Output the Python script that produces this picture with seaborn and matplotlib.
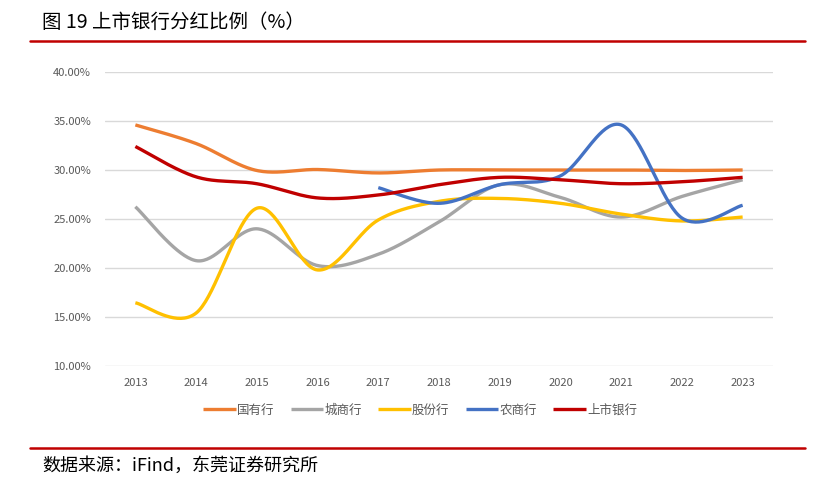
import numpy as np
import pandas as pd
import matplotlib
matplotlib.use('Agg')
import matplotlib.pyplot as plt
import seaborn as sns

# data (payout ratio, %)
years = [2013, 2014, 2015, 2016, 2017, 2018, 2019, 2020, 2021, 2022, 2023]
guoyou = [34.6, 32.7, 29.95, 30.05, 29.7, 30.0, 30.0, 30.0, 30.0, 29.95, 30.0]
chengshang = [26.25, 20.75, 24.0, 20.25, 21.4, 24.7, 28.5, 27.2, 25.2, 27.3, 29.0]
gufen = [16.45, 15.4, 26.1, 19.8, 24.9, 26.8, 27.1, 26.6, 25.5, 24.8, 25.2]
nongshang = [np.nan, np.nan, np.nan, np.nan, 28.2, 26.6, 28.5, 29.4, 34.6, 25.1, 26.4]
shangshi = [32.4, 29.3, 28.6, 27.15, 27.45, 28.5, 29.25, 29.0, 28.6, 28.8, 29.25]

series_names = ['国有行', '城商行', '股份行', '农商行', '上市银行']
colors = ['#ED7D31', '#A5A5A5', '#FFC000', '#4472C4', '#C00000']


def smooth(xs, ys, n=40):
    '''Excel-style smoothed line: cubic bezier through each point'''
    xs = np.asarray(xs, float)
    ys = np.asarray(ys, float)
    keep = ~np.isnan(ys)
    xs, ys = xs[keep], ys[keep]
    P = np.column_stack([xs, ys])
    out = []
    for i in range(len(P) - 1):
        p0 = P[i - 1] if i > 0 else P[i]
        p1 = P[i]
        p2 = P[i + 1]
        p3 = P[i + 2] if i + 2 < len(P) else P[i + 1]
        c1 = p1 + (p2 - p0) / 6
        c2 = p2 - (p3 - p1) / 6
        t = np.linspace(0, 1, n)[:, None]
        seg = ((1 - t) ** 3) * p1 + 3 * ((1 - t) ** 2) * t * c1 + 3 * (1 - t) * t ** 2 * c2 + t ** 3 * p2
        out.append(seg if i == 0 else seg[1:])
    seg = np.vstack(out)
    return seg[:, 0], seg[:, 1]


sns.set_theme(style='white')
plt.rcParams['font.family'] = ['Noto Sans CJK SC', 'DejaVu Sans']

fig = plt.figure(figsize=(8.32, 4.90), dpi=100)
ax = fig.add_axes([105 / 832, 1 - 366 / 490, (773 - 105) / 832, (366 - 72) / 490])

pos = np.arange(len(years))
all_series = [guoyou, chengshang, gufen, nongshang, shangshi]
for name, vals, col in zip(series_names, all_series, colors):
    sx, sy = smooth(pos, vals)
    sns.lineplot(x=sx, y=sy, ax=ax, color=col, linewidth=2.4, label=name,
                 sort=False, estimator=None, solid_capstyle='butt')

ax.set_xlim(-0.5, len(years) - 0.5)
ax.set_ylim(10, 40)
yt = np.arange(10, 41, 5)
ax.set_yticks(yt)
ax.set_yticklabels([f'{v:.2f}%' for v in yt])
ax.set_xticks(pos)
ax.set_xticklabels([str(y) for y in years])
ax.tick_params(axis='both', length=0, labelsize=8, colors='#595959')
ax.tick_params(axis='y', pad=10)
ax.tick_params(axis='x', pad=9)
ax.grid(axis='y', color='#D9D9D9', linewidth=1)
for s in ax.spines.values():
    s.set_visible(False)
ax.set_xlabel('')
ax.set_ylabel('')

ax.get_legend().remove()
handles, labels = ax.get_legend_handles_labels()
leg = fig.legend(handles, labels, loc='center', bbox_to_anchor=(420 / 832, 1 - 410 / 490),
                 ncol=5, frameon=False, fontsize=9, handlelength=2.6, handletextpad=0.1,
                 columnspacing=1.3)
for t in leg.get_texts():
    t.set_color('#595959')

# title, footer and the red rules
fig.text(42 / 832, 1 - 22 / 490, '图 19 上市银行分红比例（%）', fontsize=14,
         ha='left', va='center', color='black')
fig.add_artist(plt.Line2D([30 / 832, 805 / 832], [1 - 41 / 490] * 2, color='#C00000', linewidth=1.8))
fig.add_artist(plt.Line2D([30 / 832, 805 / 832], [1 - 448 / 490] * 2, color='#C00000', linewidth=1.8))
fig.text(42 / 832, 1 - 466 / 490, '数据来源：iFind，东莞证券研究所', fontsize=13,
         ha='left', va='center', color='black')

fig.savefig('out.png', dpi=100)
